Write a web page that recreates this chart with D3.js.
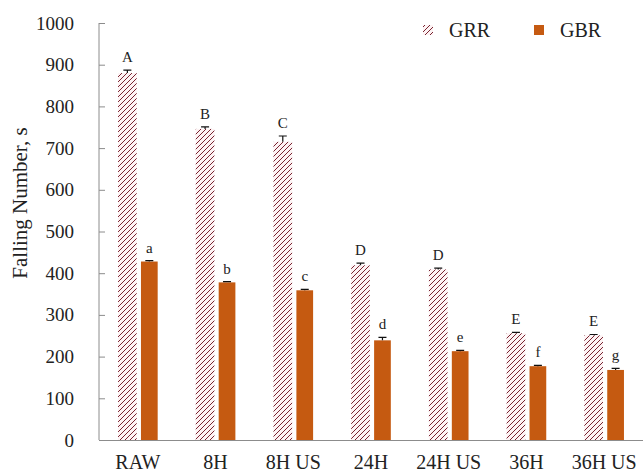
<!DOCTYPE html>
<html>
<head>
<meta charset="utf-8">
<script src="https://cdn.jsdelivr.net/npm/d3@7"></script>
<style>
  body { margin: 0; background: #fff; }
  svg { font-family: "Liberation Serif", "Times New Roman", serif; }
</style>
</head>
<body>
<svg width="643" height="474"></svg>
<script>
// data
const categories = ['RAW', '8H', '8H US', '24H', '24H US', '36H', '36H US'];
const grr = [880, 746, 715, 419, 409, 256, 251];
const grrErr = [7, 5, 14, 5, 3, 2, 2];
const grrLetters = ['A', 'B', 'C', 'D', 'D', 'E', 'E'];
const gbr = [428, 378, 359, 239, 213, 177, 168];
const gbrErr = [2, 2, 2, 7, 2, 2, 4];
const gbrLetters = ['a', 'b', 'c', 'd', 'e', 'f', 'g'];
const yTicks = [0, 100, 200, 300, 400, 500, 600, 700, 800, 900, 1000];

const svg = d3.select('svg');
const padLeft = 99, padRight = 643, padTop = 23, padBottom = 440;

const x = d3.scaleBand().domain(categories).range([padLeft, padRight]).padding(0);
const y = d3.scaleLinear().domain([0, 1000]).range([padBottom, padTop]);

// hatch pattern for GRR
const defs = svg.append('defs');
const pat = defs.append('pattern')
    .attr('id', 'hatch')
    .attr('patternUnits', 'userSpaceOnUse')
    .attr('width', 5).attr('height', 5);
pat.append('rect').attr('width', 5).attr('height', 5).attr('fill', '#fdf3f4');
pat.append('path')
    .attr('d', 'M-1,1 l2,-2 M0,5 l5,-5 M4,6 l2,-2')
    .attr('stroke', '#7a2431').attr('stroke-width', 1);

// y axis, ticks pointing inward
const yAxis = svg.append('g')
    .attr('transform', `translate(${padLeft},0)`)
    .call(d3.axisLeft(y).tickValues(yTicks).tickSize(-6).tickPadding(25).tickFormat(d3.format('d')));
yAxis.attr('font-family', null);
yAxis.select('.domain').attr('stroke', '#8c8c8c').attr('d', `M0,${padTop}V${padBottom}`);
yAxis.selectAll('.tick line').attr('stroke', '#8c8c8c');
yAxis.selectAll('.tick text').attr('font-size', 19).attr('fill', '#222')
    .attr('font-family', '"Liberation Serif", serif');

// x axis line + labels
const xAxis = svg.append('g')
    .attr('transform', `translate(0,${padBottom})`)
    .call(d3.axisBottom(x).tickSize(0).tickPadding(15));
xAxis.attr('font-family', null);
xAxis.select('.domain').attr('stroke', '#8c8c8c');
xAxis.selectAll('.tick text').attr('font-size', 20).attr('fill', '#222')
    .attr('font-family', '"Liberation Serif", serif');

// y title
svg.append('text')
    .attr('transform', 'translate(27,203) rotate(-90)')
    .attr('text-anchor', 'middle')
    .attr('font-size', 21)
    .attr('fill', '#222')
    .text('Falling Number, s');

const bw = x.bandwidth();
const off1 = bw * 0.245, w1 = bw * 0.24;
const off2 = bw * 0.54, w2 = bw * 0.215;

function drawSeries(vals, errs, letters, off, w, fill) {
    const g = svg.append('g');
    g.selectAll('rect')
        .data(categories)
        .enter()
        .append('rect')
            .attr('x', (d) => x(d) + off)
            .attr('y', (d, i) => y(vals[i]))
            .attr('width', w)
            .attr('height', (d, i) => padBottom - y(vals[i]))
            .attr('fill', fill);
    // upper error bars
    g.selectAll('.err')
        .data(categories)
        .enter()
        .append('path')
            .attr('d', (d, i) => {
                const cx = x(d) + off + w / 2;
                const y0 = y(vals[i]), y1 = y(vals[i] + errs[i]);
                return `M${cx},${y0}V${y1}M${cx - 4},${y1}H${cx + 4}`;
            })
            .attr('stroke', '#111').attr('stroke-width', 1.2).attr('fill', 'none');
    // significance letters
    g.selectAll('.lbl')
        .data(categories)
        .enter()
        .append('text')
            .attr('x', (d) => x(d) + off + w / 2)
            .attr('y', (d, i) => y(vals[i] + errs[i]) - 8)
            .attr('text-anchor', 'middle')
            .attr('font-size', 15)
            .attr('fill', '#222')
            .text((d, i) => letters[i]);
}

drawSeries(grr, grrErr, grrLetters, off1, w1, 'url(#hatch)');
drawSeries(gbr, gbrErr, gbrLetters, off2, w2, '#c55a11');

// legend
const legend = [['GRR', 'url(#hatch)', 423], ['GBR', '#c55a11', 534]];
legend.forEach(([name, fill, lx]) => {
    svg.append('rect').attr('x', lx).attr('y', 25).attr('width', 10).attr('height', 10).attr('fill', fill);
    svg.append('text').attr('x', lx + 26).attr('y', 37)
        .attr('font-size', 20).attr('fill', '#222').text(name);
});
</script>
</body>
</html>
